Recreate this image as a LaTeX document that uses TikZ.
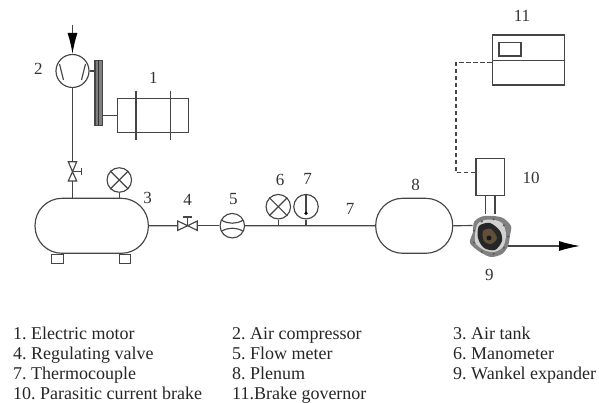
\documentclass[tikz,border=0pt]{standalone}
\usepackage{fontspec}
\setmainfont{Liberation Serif}
\usetikzlibrary{arrows.meta,calc}
\definecolor{ink}{gray}{0.27}
\tikzset{
  ln/.style={draw=ink,line width=1.15pt},
  gauge/.style={ln,circle,inner sep=0pt,minimum size=24.5pt},
  vessel/.style={ln,rectangle,rounded corners=27pt,inner sep=0pt,minimum height=55pt},
  num/.style={font=\fontsize{17}{17}\selectfont,text=black!80,inner sep=0pt},
  legend/.style={font=\fontsize{18}{20}\selectfont,text=black!85,inner sep=0pt,anchor=base west},
  vtri/.style={ln,line join=miter},
  bigarrow/.style={ln,-{Latex[length=21pt,width=10pt,black]}}
}
\begin{document}
\frenchspacing
\begin{tikzpicture}[x=1pt,y=-1pt]
\useasboundingbox (0,0) rectangle (599,403);
% compressor and motor
\node[ln,circle,inner sep=0pt,minimum size=33pt] (comp) at (72.5,71) {};
\coordinate (inlet) at (72.5,25);
\draw[bigarrow] (inlet) -- (comp.north);
\draw[ln] ($(comp.center)+(-13,-7)$) -- ($(comp.center)+(-9,9)$);
\draw[ln] ($(comp.center)+(13,-7)$) -- ($(comp.center)+(9,9)$);
\node[ln,fill=black!50,minimum width=7.3pt,minimum height=65pt,inner sep=0pt] (belt) at (98.7,93.2) {};
\draw[black!80,line width=0.7pt] (belt.north) -- (belt.south);
\draw[ln] (comp.east) -- (comp.east -| belt.west);
\node[ln,minimum width=71pt,minimum height=34.4pt,inner sep=0pt] (motor) at (152.8,115.5) {};
\draw[ln] (motor.west) -- (motor.west -| belt.east);
\coordinate (mA) at (136,90.7); \coordinate (mB) at (136,140);
\coordinate (mC) at (170.3,90.7); \coordinate (mD) at (170.3,140);
\draw[ln] (mA) -- (mB); \draw[ln] (mC) -- (mD);
% tank
\node[vessel,minimum width=113.3pt] (tank) at (91.7,225.8) {};
\node[ln,minimum width=11.6pt,minimum height=9pt,inner sep=0pt,anchor=north] (footA) at (57.5,253.5) {};
\node[ln,minimum width=11.6pt,minimum height=9pt,inner sep=0pt,anchor=north] (footB) at (125,253.5) {};
% valve on the vertical line
\coordinate (vv) at (72.5,171.7);
\coordinate (vvT) at (72.5,161.7);
\coordinate (vvB) at (72.5,181);
\draw[vtri] (vv) -- (68.3,161.7) -- (76.7,161.7) -- cycle;
\draw[vtri] (vv) -- (68.3,181) -- (76.7,181) -- cycle;
\coordinate (vvH) at (81.7,171.7);
\draw[ln] (vv) -- (vvH);
\draw[ln] (81.7,168) -- (81.7,175.4);
\draw[ln] (comp.south) -- (vvT);
\draw[ln] (vvB) -- (vvB |- tank.north);
% tank manometer
\node[gauge] (mano3) at (119.3,180) {};
\draw[ln] (mano3.south) -- (mano3.south |- tank.north);
\draw[ln] (mano3.45) -- (mano3.225);
\draw[ln] (mano3.135) -- (mano3.315);
% valve 4
\coordinate (v4) at (187.7,225.7);
\coordinate (v4L) at (177.7,225.7);
\coordinate (v4R) at (197.3,225.7);
\draw[vtri] (v4) -- (177.7,221) -- (177.7,230.4) -- cycle;
\draw[vtri] (v4) -- (197.3,221) -- (197.3,230.4) -- cycle;
\coordinate (v4H) at (187.7,217);
\draw[ln] (v4) -- (v4H);
\draw[ln] (183.3,217) -- (192,217);
\draw[ln] (tank.east) -- (v4L);
% flow meter
\node[gauge] (flow) at (232.3,225.7) {};
\draw[ln] (v4R) -- (flow.west);
\draw[ln] ($(flow.center)+(-10.8,-5.5)$) .. controls ($(flow.center)+(-4,-1.5)$) and ($(flow.center)+(4,-1.5)$) .. ($(flow.center)+(10.8,-5.5)$);
\draw[ln] ($(flow.center)+(-10.8,5.5)$) .. controls ($(flow.center)+(-4,1.5)$) and ($(flow.center)+(4,1.5)$) .. ($(flow.center)+(10.8,5.5)$);
% plenum
\node[vessel,minimum width=77pt] (plenum) at (414.2,225.8) {};
\draw[ln] (flow.east) -- (plenum.west);
% manometer 6
\node[gauge] (mano6) at (278.3,206.7) {};
\draw[ln] (mano6.45) -- (mano6.225);
\draw[ln] (mano6.135) -- (mano6.315);
\draw[ln] (mano6.south) -- (mano6.south |- plenum.west);
% thermocouple 7
\node[gauge] (thermo) at (306,206.7) {};
\draw[ln] (thermo.south) -- (thermo.south |- plenum.west);
\coordinate (tip) at (306,213.3);
\draw[ln] (thermo.north) -- (tip);
\fill[black] (tip) circle (1.8pt);
% expander
\node[circle,inner sep=0pt,minimum size=40pt] (exp) at (490.5,236.5) {};
\fill[black!50] plot[smooth cycle] coordinates {(474,222) (482,216.5) (493,216) (503,218) (511,226) (510,235) (508,246) (502,254) (491,257) (480,252) (470,243) (473,232)};
\fill[black!18] plot[smooth cycle] coordinates {(477,225) (485,220) (495,220) (503,224) (506,235) (503,247) (494,252) (484,250) (475,242)};
\fill[black!85] plot[smooth cycle] coordinates {(479,226) (490,223) (500,231) (502,241) (495,250) (484,248) (478,238)};
\fill[black!55!brown!70!gray] plot[smooth cycle] coordinates {(483,231) (491,229) (497,238) (491,244) (484,241)};
\fill[black!90] (489,238) circle (2.5pt);
\foreach \a in {0,40,...,320}{\fill[black!65] ($(exp.center)+(\a:17.5)$) circle (1.2pt);}
\draw[ln] (plenum.east) -- ($(exp.center)+(-18,-11)$);
% brake
\node[ln,minimum width=28.7pt,minimum height=37.4pt,inner sep=0pt] (brake) at (490.3,177) {};
\coordinate (sA) at (485.3,214); \coordinate (sB) at (495,214);
\draw[ln] (sA |- brake.south) -- (sA);
\draw[ln] (sB |- brake.south) -- (sB);
\coordinate (out) at (580,246);
\draw[ln,-{Latex[length=21pt,width=10pt,black]}] ($(exp.center)+(17.5,9.5)$) -- (out);
% governor
\node[ln,minimum width=72.4pt,minimum height=50pt,inner sep=0pt] (gov) at (528.5,60) {};
\coordinate (govW) at (492.3,60.7);
\coordinate (govE) at (564.7,60.7);
\draw[ln] (govW) -- (govE);
\node[ln,minimum width=22pt,minimum height=13.7pt,inner sep=0pt] (disp) at (510,49.2) {};
\coordinate (d1) at (456,172.7); \coordinate (d2) at (456,62.3);
\draw[ln,line width=1.5pt,dash pattern=on 4.5pt off 2.5pt] (brake.west |- d1) -- (d1) -- (d2) -- (gov.west |- d2);
% numbers
\node[num] (n1) at (153.3,78.3) {1};
\node[num] (n2) at (38.3,69.3) {2};
\node[num] (n3) at (147.7,198.3) {3};
\node[num] (n4) at (187.7,200) {4};
\node[num] (n5) at (233.3,199) {5};
\node[num] (n6) at (280,180) {6};
\node[num] (n7) at (307.7,179.3) {7};
\node[num] (n7b) at (350,209.3) {7};
\node[num] (n8) at (415.7,185) {8};
\node[num] (n9) at (489.3,275) {9};
\node[num] (n10) at (531,177.7) {10};
\node[num] (n11) at (522,16) {11};
% legend
\node[legend] (l1) at (13,339) {1. Electric motor};
\node[legend] (l2) at (232,339) {2. Air compressor};
\node[legend] (l3) at (453,339) {3. Air tank};
\node[legend] (l4) at (13,359) {4. Regulating valve};
\node[legend] (l5) at (232,359) {5. Flow meter};
\node[legend] (l6) at (453,359) {6. Manometer};
\node[legend] (l7) at (13,379) {7. Thermocouple};
\node[legend] (l8) at (232,379) {8. Plenum};
\node[legend] (l9) at (453,379) {9. Wankel expander};
\node[legend] (l10) at (13,399) {10. Parasitic current brake};
\node[legend] (l11) at (232,399) {11.Brake governor};
\end{tikzpicture}
\end{document}
